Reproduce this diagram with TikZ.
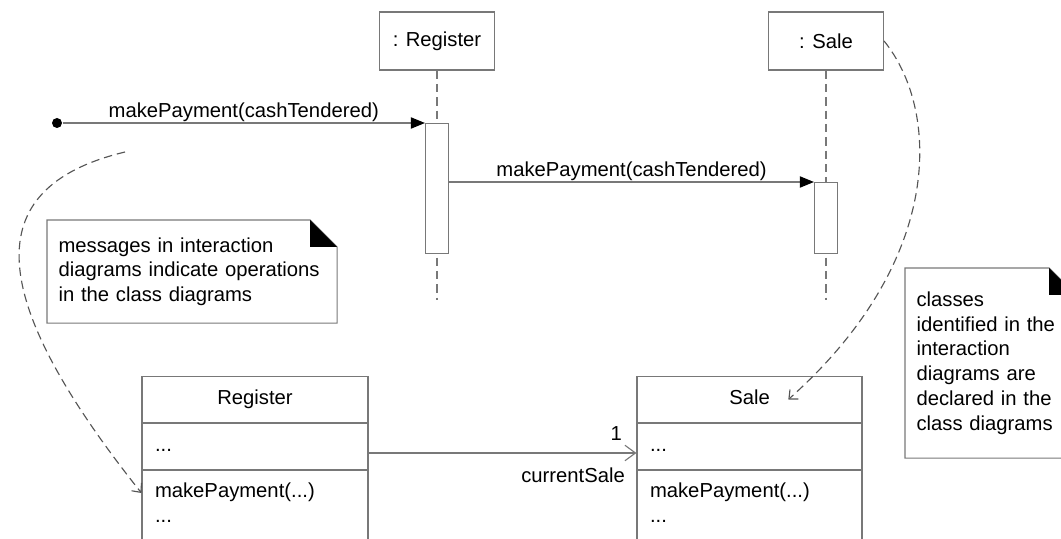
\documentclass[tikz,border=0pt]{standalone}
\usepackage{fontspec}
\setmainfont{Liberation Sans}
\usepackage{xcolor}
\definecolor{umlgray}{RGB}{120,120,120}
\definecolor{umldash}{RGB}{85,85,85}
\usetikzlibrary{arrows.meta,positioning,calc}
\newcommand{\umlfont}{\fontsize{14.4pt}{17.6pt}\selectfont}

\begin{document}
\begin{tikzpicture}[font=\umlfont, line width=0.8pt,
    headbox/.style={draw=umlgray, minimum width=2.875cm, minimum height=1.45cm},
    actbox/.style={draw=umlgray, fill=white, minimum width=0.575cm, inner sep=0, anchor=north},
    lifeline/.style={draw=umlgray, dash pattern=on 6pt off 3.5pt},
    msg/.style={draw=umlgray, -{Triangle[length=10pt, width=8pt, color=black]}},
    msglabel/.style={midway, above=0.5pt, inner sep=0},
    note/.style={inner xsep=0.275cm, inner ysep=0, align=left, anchor=north west},
    notebox/.style={draw=umlgray},
    clsbox/.style={draw=umlgray, minimum height=4.3cm, anchor=north},
    clstext/.style={inner sep=0, text height=1.5ex, text depth=0.25ex},
    assocline/.style={draw=umlgray, -{Straight Barb[length=7.5pt, width=11pt]}},
    refline/.style={draw=umldash, dash pattern=on 6pt off 3.5pt,
                    -{Straight Barb[length=5pt, width=9pt]}}
  ]
    \useasboundingbox (0,0) rectangle (26.525,13.45);
    \clip (0,0) rectangle (26.525,13.45);

    % Lifelines: heads, activations, dashed lines
    \node[headbox] (reghead) at (10.925, 12.425) {: Register};
    \node[headbox] (salehead) at (20.65, 12.425) {: Sale};
    \coordinate (regend) at (10.925, 5.95);
    \coordinate (saleend) at (20.65, 5.95);
    \draw[lifeline] (reghead.south) -- (regend);
    \draw[lifeline] (salehead.south) -- (saleend);
    \node[actbox, minimum height=3.25cm] (regact) at (10.925, 10.375) {};
    \node[actbox, minimum height=1.775cm] (saleact) at (20.65, 8.9) {};

    % Messages
    \node[circle, fill=black, minimum size=0.25cm, inner sep=0] (start) at (1.425, 10.375) {};
    \draw[msg] (start) -- (regact.north west)
      node[msglabel] {makePayment(cashTendered)};
    \draw[msg] (regact.east |- saleact.north) -- (saleact.north west)
      node[msglabel] {makePayment(cashTendered)};

    % Note 1: messages -> operations
    \node[note, text width=6.675cm, minimum height=2.55cm] (msgnote) at (1.175, 7.95) {%
      messages in interaction\\
      diagrams indicate operations\\
      in the class diagrams};
    \draw[notebox] (msgnote.south west) -- (msgnote.north west)
      -- ([xshift=-0.675cm]msgnote.north east) -- ([yshift=-0.675cm]msgnote.north east)
      -- (msgnote.south east) -- cycle;
    \fill ([xshift=-0.675cm]msgnote.north east) -- ([xshift=-0.675cm, yshift=-0.675cm]msgnote.north east)
      -- ([yshift=-0.675cm]msgnote.north east) -- cycle;

    % Note 2: classes -> class diagrams
    \node[note, text width=3.7cm, minimum height=4.725cm] (clsnote) at (22.625, 6.75) {%
      classes\\
      identified in the\\
      interaction\\
      diagrams are\\
      declared in the\\
      class diagrams};
    \draw[notebox] (clsnote.south west) -- (clsnote.north west)
      -- ([xshift=-0.675cm]clsnote.north east) -- ([yshift=-0.675cm]clsnote.north east)
      -- (clsnote.south east) -- cycle;
    \fill ([xshift=-0.675cm]clsnote.north east) -- ([xshift=-0.675cm, yshift=-0.675cm]clsnote.north east)
      -- ([yshift=-0.675cm]clsnote.north east) -- cycle;

    % Class Register
    \node[clsbox, minimum width=5.65cm] (regcls) at (6.375, 4.05) {};
    \draw[umlgray] ([yshift=-1.175cm]regcls.north west) -- ([yshift=-1.175cm]regcls.north east);
    \draw[umlgray] ([yshift=-2.35cm]regcls.north west) -- ([yshift=-2.35cm]regcls.north east);
    \node[clstext] (regname) at ([yshift=-0.5875cm]regcls.north) {Register};
    \node[clstext, anchor=west] (regattr) at ([xshift=0.325cm, yshift=-1.7625cm]regcls.north west) {...};
    \node[clstext, anchor=west] (regop) at ([xshift=0.325cm, yshift=-2.925cm]regcls.north west) {makePayment(...)};
    \node[clstext, anchor=west] (regmore) at ([xshift=0.325cm, yshift=-3.5375cm]regcls.north west) {...};

    % Class Sale
    \node[clsbox, minimum width=5.625cm] (salecls) at (18.7375, 4.05) {};
    \draw[umlgray] ([yshift=-1.175cm]salecls.north west) -- ([yshift=-1.175cm]salecls.north east);
    \draw[umlgray] ([yshift=-2.35cm]salecls.north west) -- ([yshift=-2.35cm]salecls.north east);
    \node[clstext] (salename) at ([yshift=-0.5875cm]salecls.north) {Sale};
    \node[clstext, anchor=west] (saleattr) at ([xshift=0.325cm, yshift=-1.7625cm]salecls.north west) {...};
    \node[clstext, anchor=west] (saleop) at ([xshift=0.325cm, yshift=-2.925cm]salecls.north west) {makePayment(...)};
    \node[clstext, anchor=west] (salemore) at ([xshift=0.325cm, yshift=-3.5375cm]salecls.north west) {...};

    % Association
    \coordinate (assoc) at (0, 2.125);
    \draw[assocline] (regcls.east |- assoc) -- (salecls.west |- assoc)
      node[pos=1, above left=0.3cm and 0.35cm, inner sep=0] (mult) {1}
      node[pos=1, below left=0.35cm and 0.275cm, inner sep=0] (role) {currentSale};

    % Dashed references
    \coordinate (msgref) at (3.125, 9.65);
    \draw[refline] (msgref) .. controls (-0.625, 8.75) and (-0.3, 5.95) .. (regcls.west |- regop);
    \coordinate (salehit) at ([xshift=0.45cm]salename.east);
    \draw[refline] (salehead.east) .. controls (23.5, 10.7) and (23.625, 6.95) .. (salehit);
  \end{tikzpicture}
\end{document}
